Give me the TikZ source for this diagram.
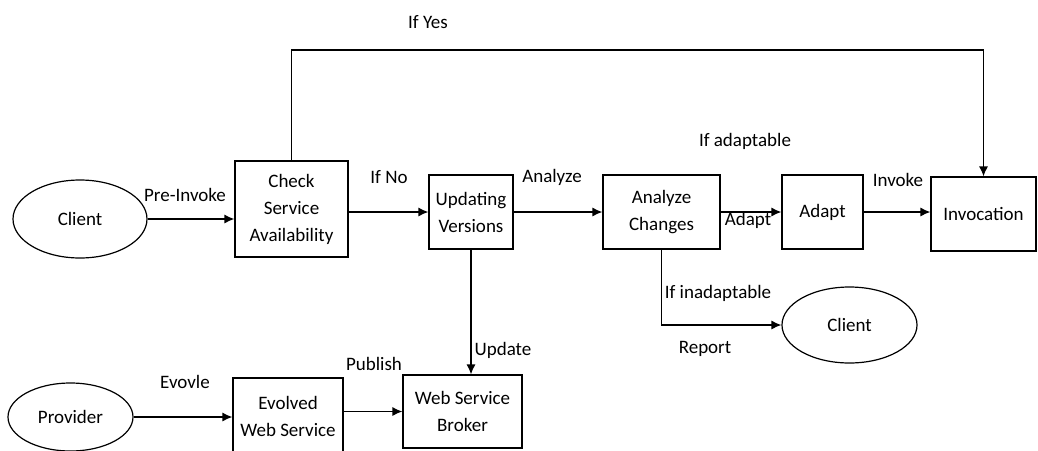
\documentclass[tikz,border=0pt]{standalone}
\usepackage{fontspec}
\setmainfont{Carlito}
\usetikzlibrary{shapes.geometric,arrows.meta}
\begin{document}
\begin{tikzpicture}[x=0.5pt,y=-0.5pt,
  every node/.style={font=\fontsize{9.5}{13.5}\selectfont, inner sep=0pt},
  box/.style={draw, line width=0.6pt, align=center},
  oval/.style={draw, ellipse, line width=0.6pt},
  lbl/.style={},
  conn/.style={line width=0.6pt},
  arr/.style={conn, -{Latex[length=5pt,width=4.5pt]}}]
\useasboundingbox (0,0) rectangle (1038,450);
\clip (0,0) rectangle (1038,450);
% nodes
\node[oval, minimum width=67pt, minimum height=39pt] (client) at (80,219) {Client};
\node[box, minimum width=56.5pt, minimum height=48pt] (check) at (291.5,209) {Check\\Service\\Availability};
\node[box, minimum width=42pt, minimum height=37pt] (upd) at (471,212) {Updating\\Versions};
\node[box, minimum width=58.5pt, minimum height=37pt] (ana) at (661.5,212) {Analyze\\Changes};
\node[box, minimum width=40.5pt, minimum height=37pt] (adapt) at (822.5,212) {Adapt};
\node[box, minimum width=52.5pt, minimum height=37pt] (inv) at (983.5,214) {Invocation};
\node[oval, minimum width=67.5pt, minimum height=38pt] (client2) at (849.5,325) {Client};
\node[oval, minimum width=62.5pt, minimum height=34pt] (prov) at (70.5,417) {Provider};
\node[box, minimum width=55pt, minimum height=38.5pt] (evo) at (288,416.5) {Evolved\\Web Service};
\node[box, minimum width=59.5pt, minimum height=36.5pt] (broker) at (462.5,411.5) {Web Service\\Broker};
% labels
\node[lbl] (lpre) at (185,195) {Pre-Invoke};
\node[lbl] (lyes) at (428,22) {If Yes};
\node[lbl] (lno) at (389,177) {If No};
\node[lbl] (lana) at (552,177) {Analyze};
\node[lbl] (ladaptable) at (745,141) {If adaptable};
\node[lbl] (ladapt) at (748,220) {Adapt};
\node[lbl] (linvoke) at (898,180) {Invoke};
\node[lbl] (lupdate) at (503,350) {Update};
\node[lbl] (linad) at (718,293) {If inadaptable};
\node[lbl] (lreport) at (705,349) {Report};
\node[lbl] (levolve) at (185,382) {Evovle};
\node[lbl] (lpub) at (374,364) {Publish};
% connectors
\coordinate (top) at (600,50);
\draw[arr] (client.east) -- (client.east -| check.west);
\draw[arr] (check.north) |- (top) -| (inv.north);
\draw[arr] (check.east |- upd.west) -- (upd.west);
\draw[arr] (upd.east) -- (ana.west);
\draw[arr] (ana.east) -- (adapt.west);
\draw[arr] (adapt.east) -- (adapt.east -| inv.west);
\draw[arr] (upd.south) -- (upd.south |- broker.north);
\draw[arr] (ana.south) |- (client2.west);
\draw[arr] (prov.east) -- (prov.east -| evo.west);
\draw[arr] (evo.east |- broker.west) -- (broker.west);
\end{tikzpicture}
\end{document}
